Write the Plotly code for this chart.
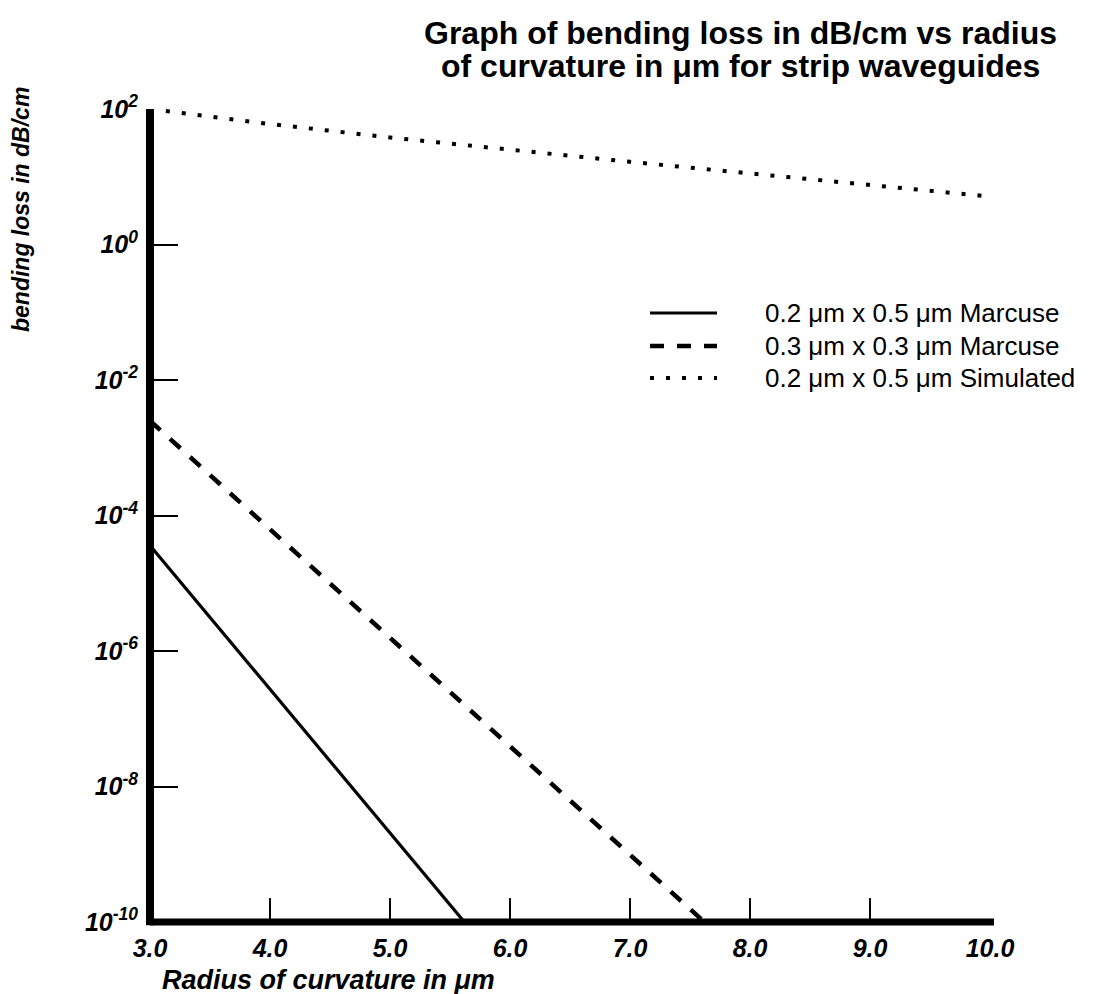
import plotly.graph_objects as go

# Bending loss (dB/cm) against radius of curvature (µm)
radius_marcuse_02x05 = [3.0, 5.62]
loss_marcuse_02x05 = [3.6e-5, 1e-10]

radius_marcuse_03x03 = [3.0, 7.62]
loss_marcuse_03x03 = [2.5e-3, 1e-10]

radius_simulated = [3.0, 4.0, 5.0, 6.0, 7.0, 8.0, 9.0, 10.0]
loss_simulated = [100, 60, 38, 25, 16.6, 11.2, 7.6, 5.1]

series_names = [
    "0.2 μm x 0.5 μm Marcuse",
    "0.3 μm x 0.3 μm Marcuse",
    "0.2 μm x 0.5 μm Simulated",
]

x_tickvals = [3.0, 4.0, 5.0, 6.0, 7.0, 8.0, 9.0, 10.0]
x_ticktext = ["3.0", "4.0", "5.0", "6.0", "7.0", "8.0", "9.0", "10.0"]
y_exponents = [2, 0, -2, -4, -6, -8, -10]
y_tickvals = [10.0 ** e for e in y_exponents]
y_ticktext = [f"10<sup>{e}</sup>" for e in y_exponents]

title_lines = [
    "Graph of bending loss in dB/cm vs radius",
    "of curvature in μm for strip waveguides",
]

FONT = "Liberation Sans, Arial, Helvetica, sans-serif"
tick_font = dict(family=FONT, size=25, color="black", weight="bold", style="italic")

# Plot-area geometry in pixels, used to place paper-referenced items
W, H = 1100, 994
L, R, T, B = 150, 110, 109, 72
PW, PH = W - L - R, H - T - B


def px_x(x):
    return (x - L) / PW


def px_y(y):
    return (H - B - y) / PH


line_styles = [
    dict(color="black", width=3.2, dash="solid"),
    dict(color="black", width=4.5, dash="14px,13px"),
    dict(color="black", width=4, dash="4px,12px"),
]

fig = go.Figure()
for xs, ys, name, style in zip(
    [radius_marcuse_02x05, radius_marcuse_03x03, radius_simulated],
    [loss_marcuse_02x05, loss_marcuse_03x03, loss_simulated],
    series_names, line_styles,
):
    fig.add_trace(go.Scatter(x=xs, y=ys, mode="lines", name=name, line=style,
                             showlegend=False))

fig.update_layout(
    width=W, height=H,
    margin=dict(l=L, r=R, t=T, b=B),
    paper_bgcolor="white", plot_bgcolor="white",
    font=dict(family=FONT, color="black"),
    showlegend=False,
)

fig.update_xaxes(
    range=[3.0, 10.0], tickmode="array", tickvals=x_tickvals, ticktext=x_ticktext,
    ticks="inside", ticklen=24, tickwidth=2, tickcolor="black",
    showline=False, showgrid=False, zeroline=False,
    tickfont=tick_font, ticklabelstandoff=9,
)
fig.update_yaxes(
    type="log", range=[-10, 2], tickmode="array", tickvals=y_tickvals, ticktext=y_ticktext,
    ticks="inside", ticklen=28, tickwidth=2, tickcolor="black",
    showline=False, showgrid=False, zeroline=False,
    tickfont=tick_font, ticklabelstandoff=11,
)

# Heavy axis lines drawn on the data edges
fig.add_shape(type="line", xref="paper", yref="paper", x0=0, x1=px_x(994), y0=0, y1=0,
              line=dict(color="black", width=7), layer="above")
fig.add_shape(type="line", xref="paper", yref="paper", x0=0, x1=0, y0=-0.004, y1=1,
              line=dict(color="black", width=8), layer="above")

# Two-line heading
for text, yc in zip(title_lines, [33, 66]):
    fig.add_annotation(
        text=text, xref="paper", yref="paper", x=px_x(740), y=px_y(yc),
        xanchor="center", yanchor="middle", showarrow=False,
        font=dict(family=FONT, size=32, color="black", weight="bold"),
    )

# Key: sample strokes and labels
key_rows = [313, 346, 378]
for name, style, yr in zip(series_names, line_styles, key_rows):
    fig.add_shape(type="line", xref="paper", yref="paper",
                  x0=px_x(650), x1=px_x(717), y0=px_y(yr), y1=px_y(yr),
                  line=style)
    fig.add_annotation(
        text=name, xref="paper", yref="paper", x=px_x(763), y=px_y(yr),
        xanchor="left", yanchor="middle", showarrow=False,
        font=dict(family=FONT, size=26, color="black"),
    )

# Axis titles
fig.add_annotation(
    text="bending loss in dB/cm", textangle=-90,
    xref="paper", yref="paper", x=px_x(21), y=px_y(210),
    xanchor="center", yanchor="middle", showarrow=False,
    font=dict(family=FONT, size=23, color="black", weight="bold", style="italic"),
)
fig.add_annotation(
    text="Radius of curvature in μm",
    xref="paper", yref="paper", x=px_x(160), y=px_y(980),
    xanchor="left", yanchor="middle", showarrow=False,
    font=dict(family=FONT, size=27, color="black", weight="bold", style="italic"),
)

fig.write_html("out.html")
